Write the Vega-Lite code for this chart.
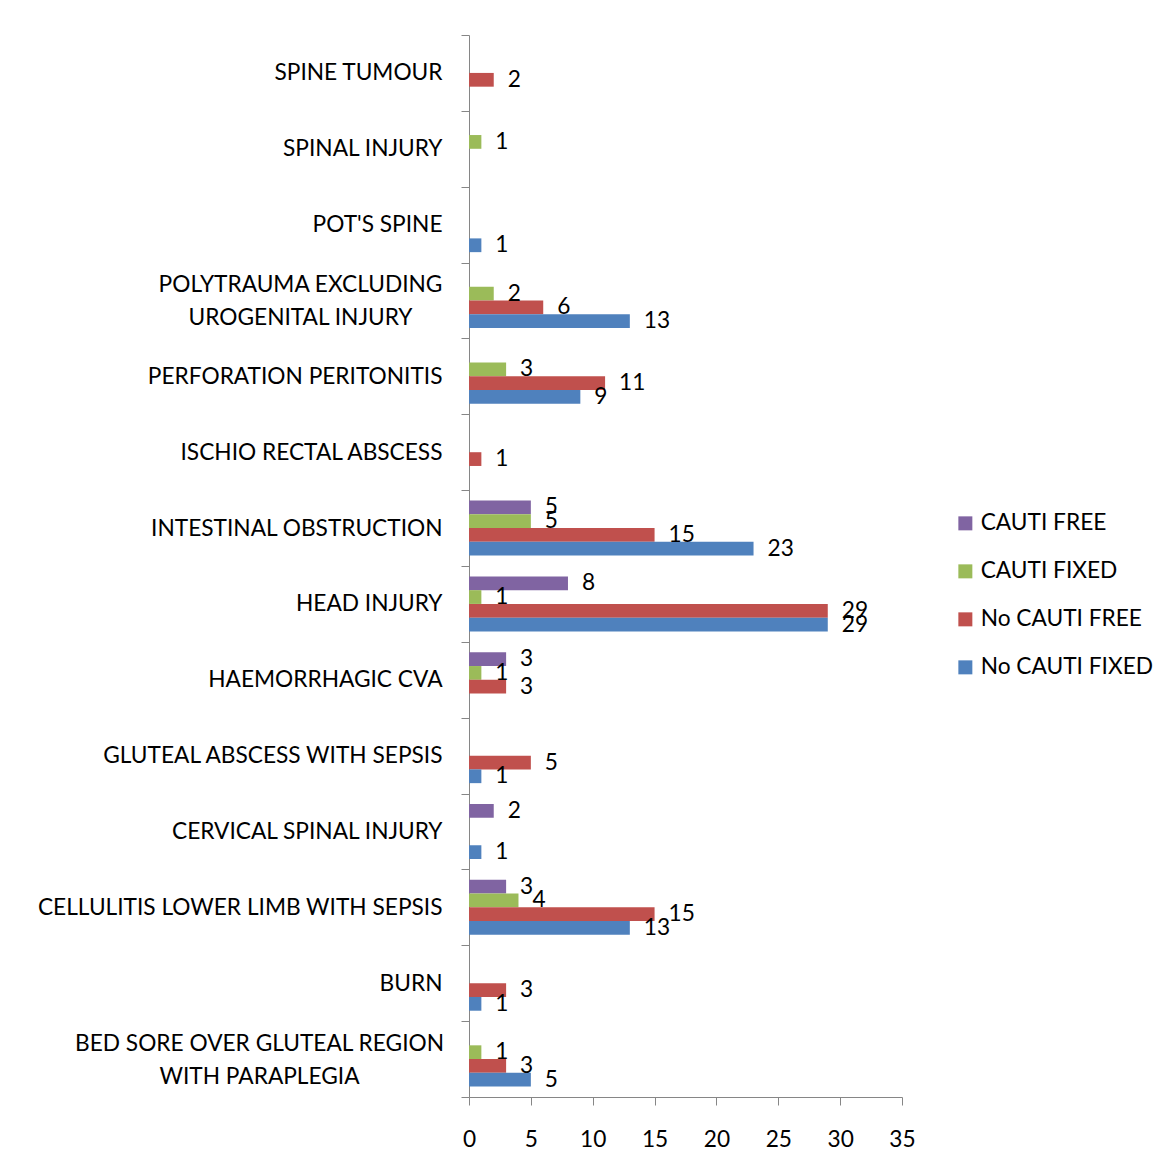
{
  "$schema": "https://vega.github.io/schema/vega-lite/v6.json",
  "autosize": {"type": "none"},
  "width": 433,
  "height": 1062,
  "padding": {"left": 469, "top": 35, "right": 270, "bottom": 79},
  "background": "white",
  "config": {
    "font": "Lato",
    "view": {"stroke": null},
    "axis": {"labelFont": "Lato", "labelColor": "black", "domainColor": "#868686", "tickColor": "#868686", "grid": false, "title": null},
    "legend": {"labelFont": "Lato"}
  },
  "data": {
    "values": [
      {"cause": "SPINE TUMOUR", "series": "No CAUTI FREE", "n": 2},
      {"cause": "SPINAL INJURY", "series": "CAUTI FIXED", "n": 1},
      {"cause": "POT'S SPINE", "series": "No CAUTI FIXED", "n": 1},
      {"cause": "POLYTRAUMA EXCLUDING UROGENITAL INJURY", "series": "CAUTI FIXED", "n": 2},
      {"cause": "POLYTRAUMA EXCLUDING UROGENITAL INJURY", "series": "No CAUTI FREE", "n": 6},
      {"cause": "POLYTRAUMA EXCLUDING UROGENITAL INJURY", "series": "No CAUTI FIXED", "n": 13},
      {"cause": "PERFORATION PERITONITIS", "series": "CAUTI FIXED", "n": 3},
      {"cause": "PERFORATION PERITONITIS", "series": "No CAUTI FREE", "n": 11},
      {"cause": "PERFORATION PERITONITIS", "series": "No CAUTI FIXED", "n": 9},
      {"cause": "ISCHIO RECTAL ABSCESS", "series": "No CAUTI FREE", "n": 1},
      {"cause": "INTESTINAL OBSTRUCTION", "series": "CAUTI FREE", "n": 5},
      {"cause": "INTESTINAL OBSTRUCTION", "series": "CAUTI FIXED", "n": 5},
      {"cause": "INTESTINAL OBSTRUCTION", "series": "No CAUTI FREE", "n": 15},
      {"cause": "INTESTINAL OBSTRUCTION", "series": "No CAUTI FIXED", "n": 23},
      {"cause": "HEAD INJURY", "series": "CAUTI FREE", "n": 8},
      {"cause": "HEAD INJURY", "series": "CAUTI FIXED", "n": 1},
      {"cause": "HEAD INJURY", "series": "No CAUTI FREE", "n": 29},
      {"cause": "HEAD INJURY", "series": "No CAUTI FIXED", "n": 29},
      {"cause": "HAEMORRHAGIC CVA", "series": "CAUTI FREE", "n": 3},
      {"cause": "HAEMORRHAGIC CVA", "series": "CAUTI FIXED", "n": 1},
      {"cause": "HAEMORRHAGIC CVA", "series": "No CAUTI FREE", "n": 3},
      {"cause": "GLUTEAL ABSCESS WITH SEPSIS", "series": "No CAUTI FREE", "n": 5},
      {"cause": "GLUTEAL ABSCESS WITH SEPSIS", "series": "No CAUTI FIXED", "n": 1},
      {"cause": "CERVICAL SPINAL INJURY", "series": "CAUTI FREE", "n": 2},
      {"cause": "CERVICAL SPINAL INJURY", "series": "No CAUTI FIXED", "n": 1},
      {"cause": "CELLULITIS LOWER LIMB WITH SEPSIS", "series": "CAUTI FREE", "n": 3},
      {"cause": "CELLULITIS LOWER LIMB WITH SEPSIS", "series": "CAUTI FIXED", "n": 4},
      {"cause": "CELLULITIS LOWER LIMB WITH SEPSIS", "series": "No CAUTI FREE", "n": 15},
      {"cause": "CELLULITIS LOWER LIMB WITH SEPSIS", "series": "No CAUTI FIXED", "n": 13},
      {"cause": "BURN", "series": "No CAUTI FREE", "n": 3},
      {"cause": "BURN", "series": "No CAUTI FIXED", "n": 1},
      {"cause": "BED SORE OVER GLUTEAL REGION WITH PARAPLEGIA", "series": "CAUTI FIXED", "n": 1},
      {"cause": "BED SORE OVER GLUTEAL REGION WITH PARAPLEGIA", "series": "No CAUTI FREE", "n": 3},
      {"cause": "BED SORE OVER GLUTEAL REGION WITH PARAPLEGIA", "series": "No CAUTI FIXED", "n": 5}
    ]
  },
  "encoding": {
    "y": {
      "field": "cause",
      "type": "nominal",
      "sort": ["SPINE TUMOUR", "SPINAL INJURY", "POT'S SPINE", "POLYTRAUMA EXCLUDING UROGENITAL INJURY", "PERFORATION PERITONITIS", "ISCHIO RECTAL ABSCESS", "INTESTINAL OBSTRUCTION", "HEAD INJURY", "HAEMORRHAGIC CVA", "GLUTEAL ABSCESS WITH SEPSIS", "CERVICAL SPINAL INJURY", "CELLULITIS LOWER LIMB WITH SEPSIS", "BURN", "BED SORE OVER GLUTEAL REGION WITH PARAPLEGIA"],
      "scale": {"paddingInner": 0, "paddingOuter": 0},
      "axis": {
        "tickBand": "extent",
        "tickSize": 8,
        "labelPadding": 19,
        "labelFontSize": 22.7,
        "labelLineHeight": 33,
        "labelLimit": 0,
        "labelExpr": "datum.label == 'POLYTRAUMA EXCLUDING UROGENITAL INJURY' ? ['POLYTRAUMA EXCLUDING', 'UROGENITAL INJURY'] : datum.label == 'BED SORE OVER GLUTEAL REGION WITH PARAPLEGIA' ? ['BED SORE OVER GLUTEAL REGION', 'WITH PARAPLEGIA'] : datum.label",
        "labelAlign": {"condition": {"test": "datum.value == 'POLYTRAUMA EXCLUDING UROGENITAL INJURY' || datum.value == 'BED SORE OVER GLUTEAL REGION WITH PARAPLEGIA'", "value": "center"}, "value": "right"},
        "encoding": {
          "labels": {
            "dx": {"condition": [{"test": "datum.value == 'POLYTRAUMA EXCLUDING UROGENITAL INJURY'", "value": -142}, {"test": "datum.value == 'BED SORE OVER GLUTEAL REGION WITH PARAPLEGIA'", "value": -183}], "value": 0},
            "dy": {"condition": {"test": "datum.value == 'POLYTRAUMA EXCLUDING UROGENITAL INJURY' || datum.value == 'BED SORE OVER GLUTEAL REGION WITH PARAPLEGIA'", "value": -16}, "value": 0}
          }
        }
      }
    },
    "yOffset": {
      "field": "series",
      "type": "nominal",
      "scale": {"domain": ["CAUTI FREE", "CAUTI FIXED", "No CAUTI FREE", "No CAUTI FIXED"], "paddingInner": 0, "paddingOuter": 0.758}
    },
    "x": {
      "field": "n",
      "type": "quantitative",
      "scale": {"domain": [0, 35], "nice": false},
      "axis": {"values": [0, 5, 10, 15, 20, 25, 30, 35], "tickSize": 8, "labelPadding": 23, "labelFontSize": 22.7, "labelFlush": false}
    }
  },
  "layer": [
    {
      "mark": {"type": "bar"},
      "encoding": {
        "color": {
          "field": "series",
          "type": "nominal",
          "scale": {"domain": ["CAUTI FREE", "CAUTI FIXED", "No CAUTI FREE", "No CAUTI FIXED"], "range": ["#8064A2", "#9BBB59", "#C0504D", "#4F81BD"]},
          "legend": {
            "title": null,
            "orient": "none",
            "legendX": 485,
            "legendY": 477,
            "symbolType": "square",
            "symbolSize": 196,
            "symbolStrokeWidth": 0,
            "labelFontSize": 22.7,
            "labelOffset": 4,
            "labelLimit": 0,
            "rowPadding": 24,
            "labelColor": "black"
          }
        }
      }
    },
    {
      "mark": {"type": "text", "align": "left", "baseline": "middle", "dx": 14, "fontSize": 22.7, "color": "black"},
      "encoding": {"text": {"field": "n", "type": "quantitative"}}
    }
  ]
}
